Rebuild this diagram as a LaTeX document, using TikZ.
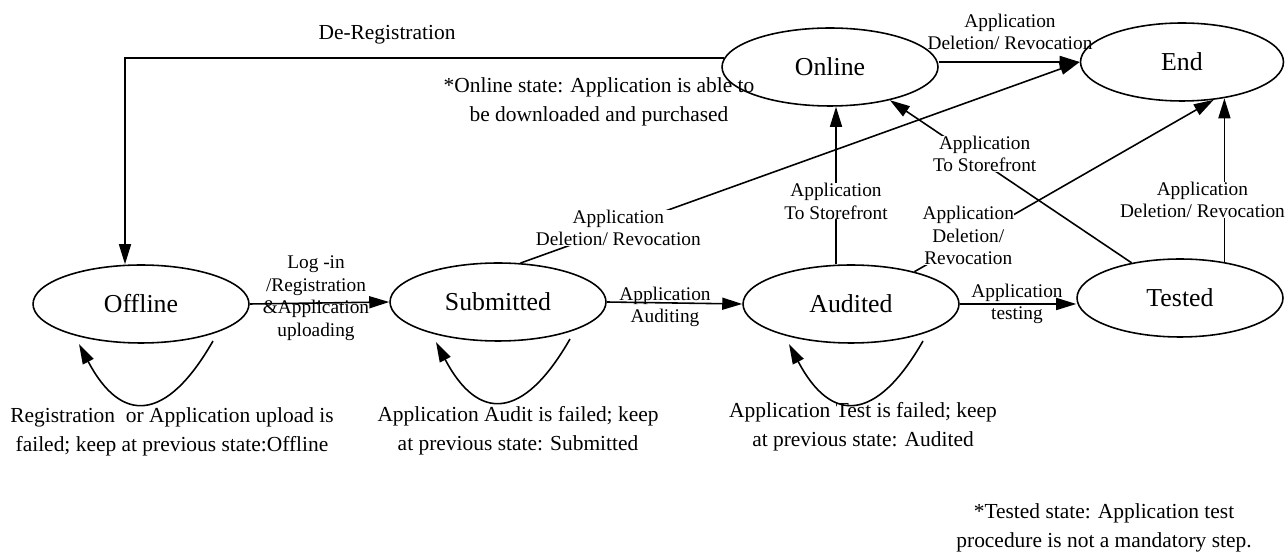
\documentclass[tikz,border=0pt]{standalone}
\usepackage{fontspec}
\setmainfont{Liberation Serif}
\usetikzlibrary{arrows.meta, shapes.geometric}

\tikzset{
state/.style={ellipse, draw, line width=0.9pt, minimum width=4.32cm, minimum height=1.56cm, font=\fontsize{14.7}{17}\selectfont},
lbl/.style={align=center, inner sep=0pt, font=\fontsize{11}{12.8}\selectfont},
note/.style={align=center, inner sep=0pt, font=\fontsize{12.2}{16.6}\selectfont},
arr/.style={-{Triangle[length=0.4cm, width=0.24cm]}, line width=0.9pt},
}

\begin{document}
\begin{tikzpicture}[x=0.02cm, y=-0.02cm]
\useasboundingbox (0,0) rectangle (1285,553);
					%%
\node[state] (off) at (141,304) {Offline};
\node[state] (sub) at (498,302) {Submitted};
\node[state] (aud) at (851,304) {Audited};
\node[state, minimum width=4.12cm] (tst) at (1180,298) {Tested};
\node[state] (onl) at (830,67) {Online};
\node[state, minimum width=4.06cm] (end) at (1182,62) {End};

\draw[arr] (onl.175) -| ([xshift=-0.32cm]off.north);
\draw[arr] (off.east) -- (sub.west);
\draw[arr] (sub.east) -- (aud.west);
\draw[arr] (aud.east) -- (aud.east -| tst.west);
\draw[arr] (onl.east |- end.west) -- (end.west);
\draw[arr] ([xshift=-0.3cm]aud.north) -- ([xshift=-0.3cm]aud.north |- onl.south)
  node[lbl, fill=white, pos=0.4] {Application\\To Storefront};
\draw[arr] (tst.144) -- (onl.-29)
  node[lbl, fill=white, pos=0.67, xshift=0.3cm] {Application\\To Storefront};
\draw[arr] (aud.27) -- (end.-50)
  node[lbl, fill=white, pos=0.21, xshift=-0.18cm] {Application\\Deletion/\\Revocation};
\draw[arr] (tst.39) -- (tst.39 |- end.-41)
  node[lbl, fill=white, pos=0.38, xshift=-0.44cm] {Application\\Deletion/ Revocation};
\draw[arr] (sub.60) -- (end.west)
  node[lbl, fill=white, pos=0.175] {Application\\Deletion/ Revocation};

\foreach \s in {off, sub, aud}
\draw[arr] ([shift={(72,37)}]\s.center) .. controls +(-47,82) and +(42,80) .. ([shift={(-62,40)}]\s.center);

\node[lbl] at (316,298) {Log -in\\/Registration\\\&Application\\uploading};
\node[lbl] at (665,307) {Application\\Auditing};
\node[lbl] at (1017,304) {Application\\testing};
\node[lbl] at (1010,32) {Application\\Deletion/ Revocation};

\node[note] at (387,35) {De-Registration};
\node[note] at (599,102) {*Online state: Application is able to\\be downloaded and purchased};
\node[note] at (172,432) {Registration\ \ or Application upload is\\failed; keep at previous state:Offline};
\node[note] at (518,431) {Application Audit is failed; keep\\at previous state: Submitted};
\node[note] at (863,427) {Application Test is failed; keep\\at previous state: Audited};
\node[note] at (1104,528) {*Tested state: Application test\\procedure is not a mandatory step.};
				\end{tikzpicture}
\end{document}
